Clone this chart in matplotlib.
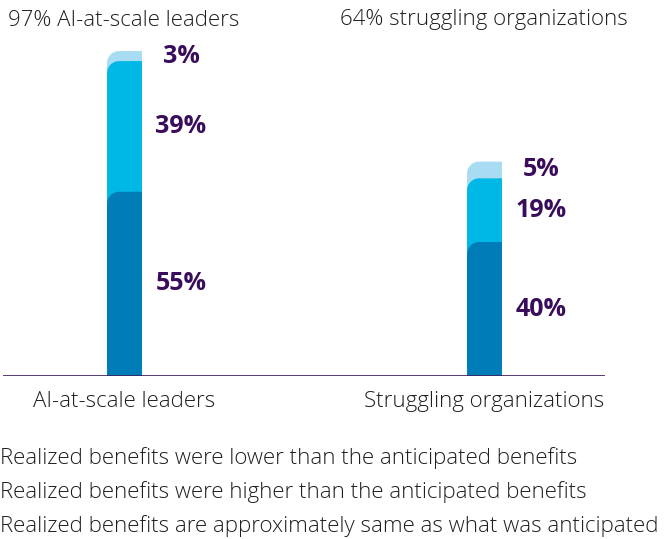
import matplotlib.pyplot as plt
from matplotlib.path import Path
from matplotlib.patches import PathPatch

# ---------- DATA ----------
groups = ["AI-at-scale leaders", "Struggling organizations"]
titles = ["97% AI-at-scale leaders", "64% struggling organizations"]
series = [
    "Realized benefits were lower than the anticipated benefits",
    "Realized benefits were higher than the anticipated benefits",
    "Realized benefits are approximately same as what was anticipated",
]
lower = [55, 40]
higher = [39, 19]
same = [3, 5]

colors = ["#007db8", "#00b8e6", "#a8dcf2"]
label_color = "#3a0d5c"
text_color = "#1e1e1e"

plt.rcParams['font.family'] = ['Open Sans', 'DejaVu Sans']

W, H = 664, 539
fig = plt.figure(figsize=(W / 100, H / 100), dpi=100)

# axes placed so the baseline sits where the reference has it
ax_left, ax_right = 3, 605
ax_bottom, ax_top = 376, 41
ax = fig.add_axes([ax_left / W, 1 - ax_bottom / H,
                   (ax_right - ax_left) / W, (ax_bottom - ax_top) / H])
ax.set_xlim(-0.3375, 1.3347)
ax.set_ylim(0, 100)
ax.axis('off')

bar_w = 0.097
px_x = 360.0            # pixels per x unit
px_y = (ax_bottom - ax_top) / 100.0
radius = 12             # corner radius in pixels
rx, ry = radius / px_x, radius / px_y
k = 0.5523


def rounded_bar(xc, top, color):
    x0, x1 = xc - bar_w / 2, xc + bar_w / 2
    verts = [
        (x0, 0), (x1, 0), (x1, top), (x0 + rx, top),
        (x0 + rx - k * rx, top), (x0, top - ry + k * ry), (x0, top - ry),
        (x0, 0),
    ]
    codes = [Path.MOVETO, Path.LINETO, Path.LINETO, Path.LINETO,
             Path.CURVE4, Path.CURVE4, Path.CURVE4, Path.CLOSEPOLY]
    ax.add_patch(PathPatch(Path(verts, codes), facecolor=color,
                           edgecolor='none', zorder=2))


for i in range(len(groups)):
    vals = [lower[i], higher[i], same[i]]
    tops = [sum(vals[:j + 1]) for j in range(3)]
    # draw tallest first so the lower segments overlap it
    for j in (2, 1, 0):
        rounded_bar(i, tops[j], colors[j])
    starts = [0] + tops[:2]
    for j in range(3):
        ax.text(i + 0.157, (starts[j] + tops[j]) / 2, f"{vals[j]}%",
                ha='center', va='center', fontsize=18, fontweight='bold',
                color=label_color)

# baseline
ax.axhline(0, color="#3a1d5e", linewidth=1.2, zorder=3)

fs = 16

# category labels under bars
for i, g in enumerate(groups):
    ax.text(i, -7.5, g, ha='center', va='center', fontsize=fs,
            color=text_color, fontweight='light')

# titles on top
fig.text(8 / W, 1 - 20 / H, titles[0], ha='left', va='center',
         fontsize=fs, color=text_color, fontweight='light')
fig.text(340 / W, 1 - 20 / H, titles[1], ha='left', va='center',
         fontsize=fs, color=text_color, fontweight='light')

# legend text (markers sit outside the canvas)
for n, name in enumerate(series):
    fig.text(0, 1 - (458 + 34 * n) / H, name, ha='left', va='center',
             fontsize=fs, color=text_color, fontweight='light')

fig.savefig("out.png", dpi=100)
